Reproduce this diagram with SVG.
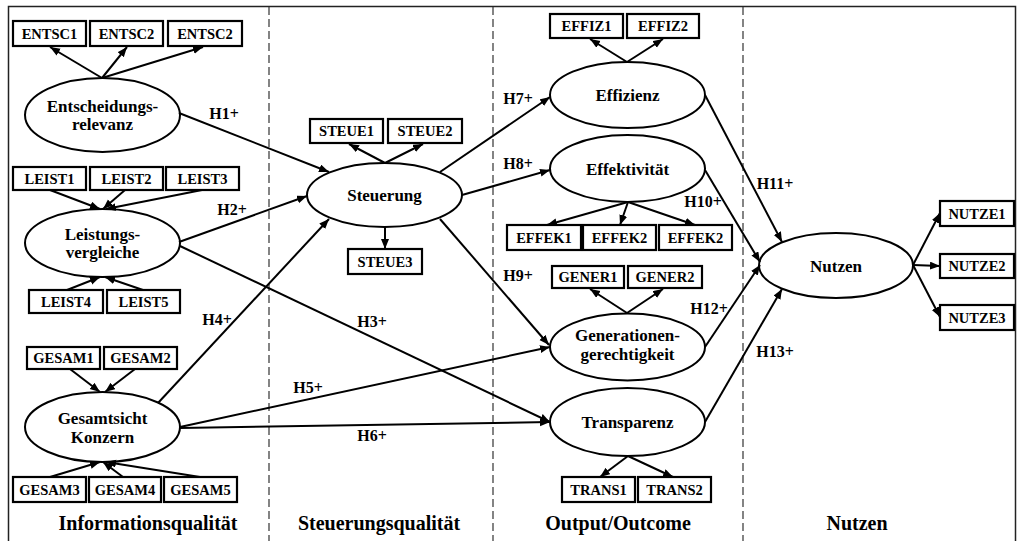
<svg xmlns="http://www.w3.org/2000/svg" width="1017" height="541" viewBox="0 0 1017 541">
<style>
text{font-family:"Liberation Serif","Times New Roman",serif;font-weight:bold;fill:#000;text-anchor:middle}
.box rect{fill:#fff;stroke:#000;stroke-width:2.2}
.box text{font-size:14.5px}
.lat ellipse{fill:#fff;stroke:#000;stroke-width:2}
.lat text{font-size:17px}
.hl{font-size:16px}
.sec{font-size:20px}
.dash{stroke:#333;stroke-width:1.2;stroke-dasharray:8 4;fill:none}
#connectors line{stroke:#000;stroke-width:2;marker-end:url(#ah)}
</style>
<defs>
<marker id="ah" markerUnits="userSpaceOnUse" markerWidth="11" markerHeight="9" refX="10" refY="4" orient="auto">
<path d="M0,0 L10,4 L0,8 z" fill="#000"/>
</marker>
</defs>
<rect x="0" y="0" width="1017" height="541" fill="#fff"/>
<rect x="8.5" y="6.5" width="1007" height="545" fill="none" stroke="#222" stroke-width="1.5"/>
<g id="separators">
<line class="dash" x1="269" y1="7" x2="269" y2="541"/>
<line class="dash" x1="493" y1="7" x2="493" y2="541"/>
<line class="dash" x1="743" y1="7" x2="743" y2="541"/>
</g>
<g id="section-labels">
<text class="sec" x="148" y="530">Informationsqualität</text>
<text class="sec" x="379" y="530">Steuerungsqualität</text>
<text class="sec" x="618" y="530">Output/Outcome</text>
<text class="sec" x="857" y="530">Nutzen</text>
</g>

<g id="entsc1" class="box"><rect x="13" y="21" width="73" height="25"/><text x="49.5" y="38.5">ENTSC1</text></g>
<g id="entsc2" class="box"><rect x="90" y="21" width="73" height="25"/><text x="126.5" y="38.5">ENTSC2</text></g>
<g id="entsc3" class="box"><rect x="168" y="21" width="74" height="25"/><text x="205" y="38.5">ENTSC2</text></g>
<g id="entscheidungsrelevanz" class="lat"><ellipse cx="102.5" cy="115" rx="77.5" ry="37"/><text x="102.5" y="112">Entscheidungs-</text><text x="102.5" y="130">relevanz</text></g>

<g id="leist1" class="box"><rect x="13" y="167" width="73" height="23"/><text x="49.5" y="183.5">LEIST1</text></g>
<g id="leist2" class="box"><rect x="90" y="167" width="73" height="23"/><text x="126.5" y="183.5">LEIST2</text></g>
<g id="leist3" class="box"><rect x="166" y="167" width="73" height="23"/><text x="202.5" y="183.5">LEIST3</text></g>
<g id="leistungsvergleiche" class="lat"><ellipse cx="102.5" cy="243" rx="77.5" ry="34"/><text x="102.5" y="240">Leistungs-</text><text x="102.5" y="258">vergleiche</text></g>
<g id="leist4" class="box"><rect x="29" y="290" width="74" height="23"/><text x="66" y="306.5">LEIST4</text></g>
<g id="leist5" class="box"><rect x="107" y="290" width="73" height="23"/><text x="143.5" y="306.5">LEIST5</text></g>

<g id="gesam1" class="box"><rect x="27" y="347" width="73" height="22"/><text x="63.5" y="363">GESAM1</text></g>
<g id="gesam2" class="box"><rect x="104" y="347" width="73" height="22"/><text x="140.5" y="363">GESAM2</text></g>
<g id="gesamtsicht" class="lat"><ellipse cx="102.5" cy="427" rx="77.5" ry="35"/><text x="102.5" y="424">Gesamtsicht</text><text x="102.5" y="443">Konzern</text></g>
<g id="gesam3" class="box"><rect x="13" y="477" width="73" height="25"/><text x="49.5" y="494.5">GESAM3</text></g>
<g id="gesam4" class="box"><rect x="89" y="477" width="72" height="25"/><text x="125" y="494.5">GESAM4</text></g>
<g id="gesam5" class="box"><rect x="164" y="477" width="73" height="25"/><text x="200.5" y="494.5">GESAM5</text></g>

<g id="steue1" class="box"><rect x="310" y="119" width="73" height="24"/><text x="346.5" y="136">STEUE1</text></g>
<g id="steue2" class="box"><rect x="388" y="119" width="74" height="24"/><text x="425" y="136">STEUE2</text></g>
<g id="steuerung" class="lat"><ellipse cx="384.5" cy="195" rx="77.5" ry="32"/><text x="384.5" y="201">Steuerung</text></g>
<g id="steue3" class="box"><rect x="348" y="249" width="74" height="25"/><text x="385" y="266.5">STEUE3</text></g>

<g id="effiz1" class="box"><rect x="550" y="14" width="73" height="24"/><text x="586.5" y="31">EFFIZ1</text></g>
<g id="effiz2" class="box"><rect x="627" y="14" width="72" height="24"/><text x="663" y="31">EFFIZ2</text></g>
<g id="effizienz" class="lat"><ellipse cx="627.5" cy="95" rx="77.5" ry="33"/><text x="627.5" y="101">Effizienz</text></g>
<g id="effektivitaet" class="lat"><ellipse cx="627.5" cy="168.5" rx="77.5" ry="33.5"/><text x="627.5" y="174.5">Effektivität</text></g>
<g id="effek1" class="box"><rect x="507" y="225" width="74" height="25"/><text x="544" y="242.5">EFFEK1</text></g>
<g id="effek2" class="box"><rect x="583" y="225" width="73" height="25"/><text x="619.5" y="242.5">EFFEK2</text></g>
<g id="effek3" class="box"><rect x="659" y="225" width="73" height="25"/><text x="695.5" y="242.5">EFFEK2</text></g>

<g id="gener1" class="box"><rect x="552" y="266" width="72" height="22"/><text x="588" y="282">GENER1</text></g>
<g id="gener2" class="box"><rect x="628" y="266" width="74" height="22"/><text x="665" y="282">GENER2</text></g>
<g id="generationengerechtigkeit" class="lat"><ellipse cx="627.5" cy="347" rx="77.5" ry="33.5"/><text x="627.5" y="341">Generationen-</text><text x="627.5" y="360">gerechtigkeit</text></g>
<g id="transparenz" class="lat"><ellipse cx="627.5" cy="422" rx="77.5" ry="34"/><text x="627.5" y="428">Transparenz</text></g>
<g id="trans1" class="box"><rect x="562" y="477" width="73" height="25"/><text x="598.5" y="494.5">TRANS1</text></g>
<g id="trans2" class="box"><rect x="638" y="477" width="73" height="25"/><text x="674.5" y="494.5">TRANS2</text></g>

<g id="nutzen" class="lat"><ellipse cx="836" cy="265.5" rx="77" ry="32.5"/><text x="836" y="271.5">Nutzen</text></g>
<g id="nutze1" class="box"><rect x="940" y="201" width="74" height="25"/><text x="977" y="218.5">NUTZE1</text></g>
<g id="nutze2" class="box"><rect x="940" y="254" width="74" height="24"/><text x="977" y="271">NUTZE2</text></g>
<g id="nutze3" class="box"><rect x="940" y="305" width="74" height="25"/><text x="977" y="322.5">NUTZE3</text></g>

<g id="connectors">
<line x1="102" y1="78" x2="50" y2="47"/>
<line x1="102" y1="78" x2="127" y2="47"/>
<line x1="102" y1="78" x2="203" y2="47"/>
<line x1="50" y1="190" x2="100" y2="209"/>
<line x1="125" y1="190" x2="103" y2="209"/>
<line x1="202" y1="190" x2="106" y2="209"/>
<line x1="67" y1="290" x2="100" y2="277"/>
<line x1="143" y1="290" x2="105" y2="277"/>
<line x1="70" y1="369" x2="100" y2="392"/>
<line x1="135" y1="369" x2="105" y2="392"/>
<line x1="50" y1="477" x2="100" y2="462"/>
<line x1="123" y1="477" x2="103" y2="462"/>
<line x1="200" y1="477" x2="106" y2="462"/>
<line x1="385" y1="163" x2="349" y2="144"/>
<line x1="385" y1="163" x2="423" y2="144"/>
<line x1="385" y1="227" x2="385" y2="249"/>
<line x1="627" y1="62" x2="590" y2="39"/>
<line x1="627" y1="62" x2="663" y2="39"/>
<line x1="628" y1="202" x2="547" y2="225"/>
<line x1="628" y1="202" x2="620" y2="225"/>
<line x1="628" y1="202" x2="695" y2="225"/>
<line x1="627" y1="313" x2="590" y2="289"/>
<line x1="627" y1="313" x2="663" y2="289"/>
<line x1="628" y1="456" x2="600" y2="477"/>
<line x1="628" y1="456" x2="673" y2="477"/>
<line x1="913" y1="265" x2="940" y2="213"/>
<line x1="913" y1="265" x2="940" y2="266"/>
<line x1="913" y1="265" x2="940" y2="317"/>
<line x1="179" y1="113" x2="329" y2="172"/>
<line x1="179" y1="242" x2="307" y2="196"/>
<line x1="180" y1="246" x2="550" y2="422"/>
<line x1="158" y1="403" x2="329" y2="219"/>
<line x1="180" y1="427" x2="550" y2="347"/>
<line x1="180" y1="428" x2="550" y2="422"/>
<line x1="440" y1="172" x2="550" y2="97"/>
<line x1="462" y1="195" x2="550" y2="170"/>
<line x1="440" y1="219" x2="549" y2="345"/>
<line x1="705" y1="170" x2="760" y2="262"/>
<line x1="705" y1="95" x2="782" y2="242"/>
<line x1="705" y1="347" x2="760" y2="265"/>
<line x1="705" y1="422" x2="782" y2="289"/>
</g>
<g id="connector-labels">
<text class="hl" x="224" y="119">H1+</text>
<text class="hl" x="232" y="215">H2+</text>
<text class="hl" x="372" y="327">H3+</text>
<text class="hl" x="217" y="325">H4+</text>
<text class="hl" x="308" y="393">H5+</text>
<text class="hl" x="372" y="441">H6+</text>
<text class="hl" x="518" y="104">H7+</text>
<text class="hl" x="518" y="169">H8+</text>
<text class="hl" x="518" y="281">H9+</text>
<text class="hl" x="703" y="207">H10+</text>
<text class="hl" x="775" y="189">H11+</text>
<text class="hl" x="709" y="314">H12+</text>
<text class="hl" x="775" y="357">H13+</text>
</g>
</svg>
